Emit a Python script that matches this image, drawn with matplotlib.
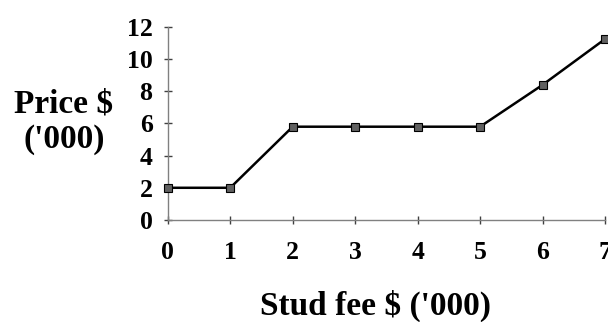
import matplotlib
matplotlib.use("Agg")
import matplotlib.pyplot as plt

stud_fee = [0, 1, 2, 3, 4, 5, 6, 7]
price = [2.0, 2.0, 5.8, 5.8, 5.8, 5.8, 8.4, 11.25]
x_ticks = [0, 1, 2, 3, 4, 5, 6, 7]
y_ticks = [0, 2, 4, 6, 8, 10, 12]

plt.rcParams['font.family'] = ['Liberation Serif', 'DejaVu Serif']
plt.rcParams['font.weight'] = 'bold'

fig = plt.figure(figsize=(6.08, 3.22), dpi=100)
ax = fig.add_axes([0.276, 0.317, 0.719, 0.599])
ax.plot(stud_fee, price, color='black', lw=1.8, marker='s', markersize=5.5,
        markerfacecolor='#606060', markeredgecolor='black', markeredgewidth=0.8,
        clip_on=False, zorder=3)
ax.set_xlim(0, 7)
ax.set_ylim(0, 12)
ax.set_xticks(x_ticks)
ax.set_yticks(y_ticks)
for s in ['top', 'right']:
    ax.spines[s].set_visible(False)
for s in ['left', 'bottom']:
    ax.spines[s].set_color('#808080')
    ax.spines[s].set_linewidth(1.0)
ax.tick_params(axis='both', direction='inout', length=6, width=1, color='#404040',
               labelsize=18.5)
ax.tick_params(axis='x', pad=12)
ax.tick_params(axis='y', pad=8)
for lab in ax.get_xticklabels() + ax.get_yticklabels():
    lab.set_fontweight('bold')

fig.text(0.105, 0.622, "Price $\n('000)", ha='center', va='center',
         fontsize=24, fontweight='bold', linespacing=1.2)
fig.text(0.618, 0.05, "Stud fee $ ('000)", ha='center', va='center',
         fontsize=24, fontweight='bold')

fig.savefig('out.png', dpi=100)
